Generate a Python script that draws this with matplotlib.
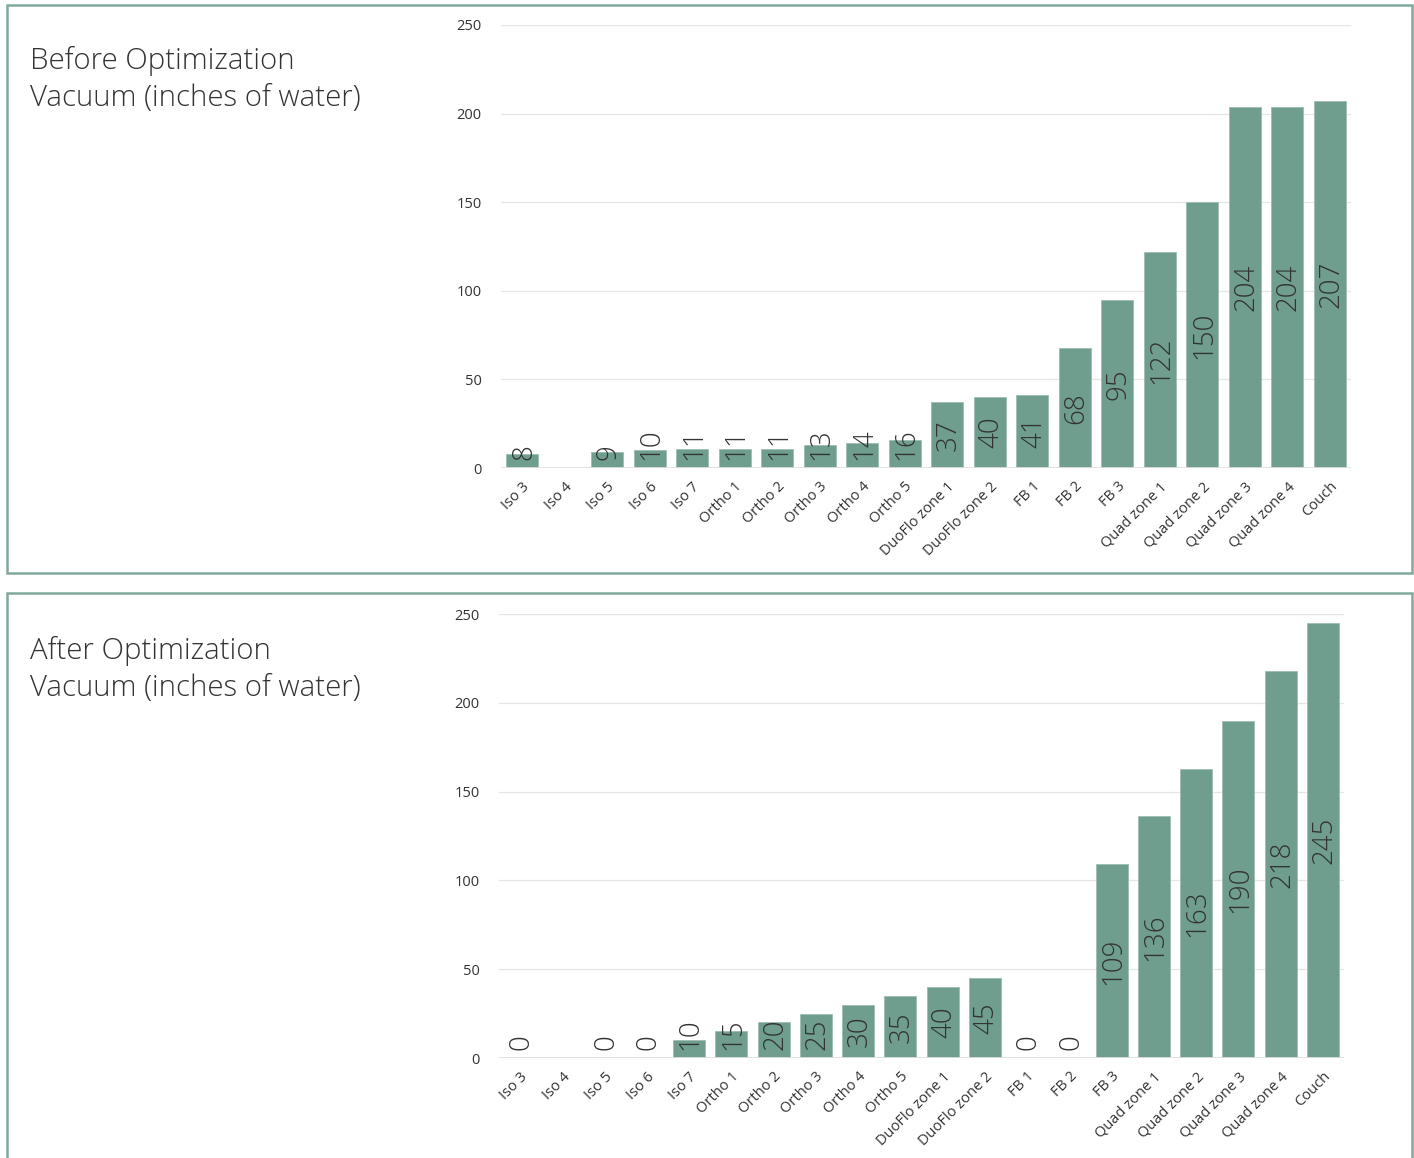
import matplotlib.pyplot as plt
import numpy as np
from matplotlib.patches import Rectangle

# zones along the x axis
zones = ["Iso 3", "Iso 4", "Iso 5", "Iso 6", "Iso 7", "Ortho 1", "Ortho 2", "Ortho 3",
         "Ortho 4", "Ortho 5", "DuoFlo zone 1", "DuoFlo zone 2", "FB 1", "FB 2", "FB 3",
         "Quad zone 1", "Quad zone 2", "Quad zone 3", "Quad zone 4", "Couch"]

# vacuum readings, None = no reading (Iso 4)
before = [8, None, 9, 10, 11, 11, 11, 13, 14, 16, 37, 40, 41, 68, 95, 122, 150, 204, 204, 207]
after = [0, None, 0, 0, 10, 15, 20, 25, 30, 35, 40, 45, 0, 0, 109, 136, 163, 190, 218, 245]

titles = ["Before Optimization\nVacuum (inches of water)",
          "After Optimization\nVacuum (inches of water)"]
yticks = [0, 50, 100, 150, 200, 250]

bar_color = "#6f9e8e"
text_color = "#333333"
fam = ["Open Sans", "DejaVu Sans"]

W, H = 1414, 1158
fig = plt.figure(figsize=(W / 100, H / 100), dpi=100)

# panel frames
fig.patches.append(Rectangle((7 / W, 1 - 573 / H), 1405 / W, 568 / H, transform=fig.transFigure,
                             fill=False, edgecolor="#80a99b", linewidth=1.8))
fig.patches.append(Rectangle((7 / W, -0.02), 1405 / W, 1 - 593 / H + 0.02, transform=fig.transFigure,
                             fill=False, edgecolor="#80a99b", linewidth=1.8))

axes_px = [(501, 25, 850, 443), (499, 614, 845, 444)]
title_top = [46, 636]

for k, vals in enumerate([before, after]):
    x0, top, w, h = axes_px[k]
    ax = fig.add_axes([x0 / W, 1 - (top + h) / H, w / W, h / H])
    x = np.arange(len(zones))
    heights = [np.nan if v is None else v for v in vals]
    ax.bar(x, heights, width=0.76, color=bar_color, edgecolor="#9dbdb1", linewidth=0.6, zorder=3)
    ax.set_xlim(-0.5, len(zones) - 0.5)
    ax.set_ylim(0, 250)
    ax.set_yticks(yticks)
    ax.set_xticks(x)
    ax.set_xticklabels(zones, rotation=45, ha="right", rotation_mode="anchor",
                       fontsize=10.5, color=text_color, family=fam)
    ax.tick_params(axis="both", length=0, labelsize=10.5, labelcolor=text_color)
    ax.tick_params(axis="x", pad=8)
    ax.tick_params(axis="y", pad=14)
    for lab in ax.get_yticklabels():
        lab.set_family(fam)
    for s in ax.spines.values():
        s.set_visible(False)
    ax.grid(axis="y", color="#e6e6e6", linewidth=0.9, zorder=0)
    ax.axhline(0, color="#e0e0e0", linewidth=2, zorder=4)

    # data labels, rotated, centred in bar unless too short
    ppu = h / 250.0
    for i, v in enumerate(vals):
        if v is None:
            continue
        s = str(v)
        half = len(s) * 15.5 / 2
        yc = max(v / 2, (8 + half) / ppu)
        ax.text(i + 0.04, yc, s, rotation=90, ha="center", va="center", fontsize=20,
                color=text_color, family=fam, fontweight="light", zorder=5)

    fig.text(30 / W, 1 - title_top[k] / H, titles[k], ha="left", va="top", fontsize=21.2,
             color=text_color, family=fam, fontweight="light", linespacing=1.34)

fig.savefig("out.png", dpi=100)
